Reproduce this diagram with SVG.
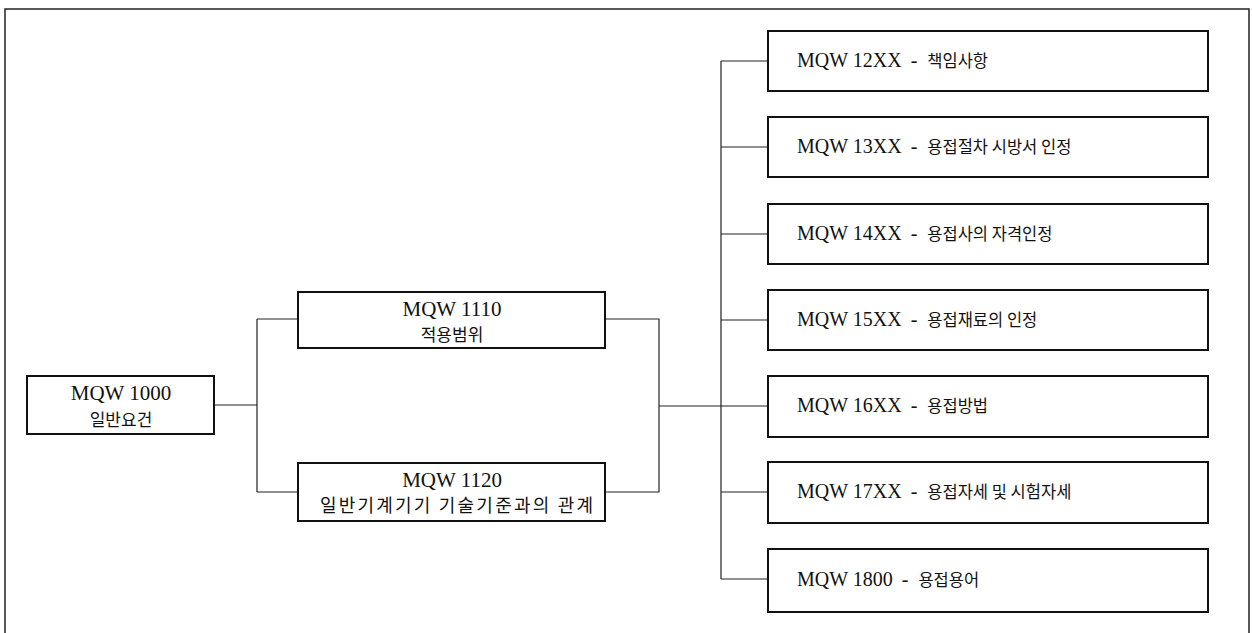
<svg xmlns="http://www.w3.org/2000/svg" width="1252" height="633" viewBox="0 0 1252 633">
<style>
.box{fill:#fff;stroke:#111;stroke-width:2}
.frame{fill:none;stroke:#222;stroke-width:1.5}
.con{fill:none;stroke:#222;stroke-width:1.2}
.lat{font-family:"Liberation Serif","Noto Sans CJK KR",serif;font-size:20px;fill:#111}
.latl{font-family:"Liberation Serif","Noto Sans CJK KR",serif;font-size:21px;fill:#111}
.ko{font-family:"Noto Sans CJK KR","Noto Sans",sans-serif;font-size:17px;fill:#111}
.kom{font-family:"Noto Sans CJK KR","Noto Sans",sans-serif;font-size:18px;fill:#111}
.kos{font-family:"Noto Sans CJK KR","Noto Sans",sans-serif;font-size:16.5px}
.c{text-anchor:middle}
</style>
<rect width="1252" height="633" fill="#fff"/>
<path class="frame" d="M5,640 V9 H1249 V640"/>
<g id="connectors">
<path class="con" d="M214,405 H257 M257,319 V492 M257,319 H298 M257,492 H298"/>
<path class="con" d="M605,319 H659 V492 H605 M659,406 H768"/>
<path class="con" d="M721,61 V579 M721,61 H768 M721,147 H768 M721,234 H768 M721,320 H768 M721,492 H768 M721,579 H768"/>
</g>
<g id="n1000">
<rect class="box" x="27" y="376" width="187" height="58"/>
<text class="latl c" x="121" y="400">MQW 1000</text>
<text class="ko c" x="121" y="426">일반요건</text>
</g>
<g id="n1110">
<rect class="box" x="298" y="292" width="307" height="56"/>
<text class="latl c" x="452" y="316">MQW 1110</text>
<text class="ko c" x="452" y="341">적용범위</text>
</g>
<g id="n1120">
<rect class="box" x="298" y="463" width="307" height="58"/>
<text class="latl c" x="452" y="487">MQW 1120</text>
<text class="kom" x="320" y="512" textLength="273" lengthAdjust="spacing">일반기계기기 기술기준과의 관계</text>
</g>
<g id="n12">
<rect class="box" x="768" y="31" width="440" height="60"/>
<text class="lat" x="797" y="67">MQW 12XX <tspan dx="4">-</tspan> <tspan class="kos" dx="5">책임사항</tspan></text>
</g>
<g id="n13">
<rect class="box" x="768" y="117" width="440" height="60"/>
<text class="lat" x="797" y="153">MQW 13XX <tspan dx="4">-</tspan> <tspan class="kos" dx="5">용접절차 시방서 인정</tspan></text>
</g>
<g id="n14">
<rect class="box" x="768" y="204" width="440" height="60"/>
<text class="lat" x="797" y="240">MQW 14XX <tspan dx="4">-</tspan> <tspan class="kos" dx="5">용접사의 자격인정</tspan></text>
</g>
<g id="n15">
<rect class="box" x="768" y="290" width="440" height="60"/>
<text class="lat" x="797" y="326">MQW 15XX <tspan dx="4">-</tspan> <tspan class="kos" dx="5">용접재료의 인정</tspan></text>
</g>
<g id="n16">
<rect class="box" x="768" y="376" width="440" height="61"/>
<text class="lat" x="797" y="412">MQW 16XX <tspan dx="4">-</tspan> <tspan class="kos" dx="5">용접방법</tspan></text>
</g>
<g id="n17">
<rect class="box" x="768" y="462" width="440" height="61"/>
<text class="lat" x="797" y="498">MQW 17XX <tspan dx="4">-</tspan> <tspan class="kos" dx="5">용접자세 및 시험자세</tspan></text>
</g>
<g id="n18">
<rect class="box" x="768" y="549" width="440" height="63"/>
<text class="lat" x="797" y="586">MQW 1800 <tspan dx="4">-</tspan> <tspan class="kos" dx="5">용접용어</tspan></text>
</g>
</svg>
